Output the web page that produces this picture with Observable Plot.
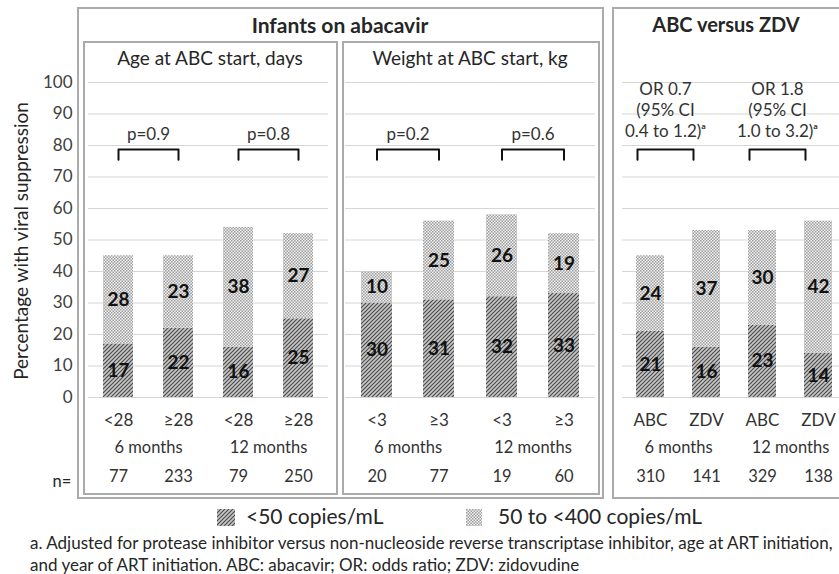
<!DOCTYPE html>
<html><head><meta charset="utf-8">
<script src="https://cdn.jsdelivr.net/npm/d3@7"></script>
<script src="https://cdn.jsdelivr.net/npm/@observablehq/plot@0.6"></script>
<style>
body{margin:0;background:#fff;font-family:Lato,"Open Sans",sans-serif;color:#262626}
#fig{position:relative;width:839px;height:574px;overflow:hidden;background:#fff}
.box{position:absolute;border:2px solid #ababab;box-sizing:border-box}
.t{position:absolute;white-space:nowrap;transform:translate(-50%,-50%)}
.pl{position:absolute;top:0}
.pl svg{max-width:none !important}
.leg{position:absolute;white-space:nowrap;font-size:21px;color:#262626}
.foot{position:absolute;left:30px;font-size:17px;white-space:nowrap;color:#262626}
</style></head>
<body>
<svg width="0" height="0" style="position:absolute">
  <defs>
    <pattern id="hatch" patternUnits="userSpaceOnUse" width="4" height="4">
      <rect width="4" height="4" fill="#c8c8c8"/>
      <path d="M-1,1 l2,-2 M0,4 l4,-4 M3,5 l2,-2" stroke="#4a4a4a" stroke-width="1.2"/>
    </pattern>
    <pattern id="dots" patternUnits="userSpaceOnUse" width="3" height="3">
      <rect width="3" height="3" fill="#efefef"/>
      <rect width="1.5" height="1.5" fill="#a0a0a0"/>
      <rect x="1.5" y="1.5" width="1.5" height="1.5" fill="#a0a0a0"/>
    </pattern>
  </defs>
</svg>
<div id="fig">
  <div class="box" style="left:77px;top:7px;width:527px;height:492px"></div>
  <div class="box" style="left:83px;top:41px;width:255px;height:454px"></div>
  <div class="box" style="left:342px;top:41px;width:258px;height:454px"></div>
  <div class="box" style="left:612px;top:7px;width:260px;height:492px"></div>
  <div class="t" style="left:340px;top:24px;font-weight:bold;font-size:21px">Infants on abacavir</div>
  <div class="t" style="left:726px;top:24px;font-weight:bold;font-size:20px">ABC versus ZDV</div>
  <div class="t" style="left:210px;top:57px;font-size:19px">Age at ABC start, days</div>
  <div class="t" style="left:470px;top:57px;font-size:19px">Weight at ABC start, kg</div>
  <svg style="position:absolute;left:0;top:0" width="40" height="500">
    <text transform="translate(20,241) rotate(-90)" text-anchor="middle" dominant-baseline="central" font-family="Lato, 'Open Sans', sans-serif" font-size="19" fill="#262626">Percentage with viral suppression</text>
  </svg>
  <div class="t" style="left:62px;top:481px;font-size:16.5px">n=</div>
  <div id="p1" class="pl" style="left:0px;width:328px"></div>
  <div id="p2" class="pl" style="left:345px;width:250px"></div>
  <div id="p3" class="pl" style="left:622px;width:224px"></div>
  <svg class="leg" style="left:217px;top:509px" width="18" height="17"><rect width="18" height="17" fill="url(#hatch)"/></svg>
  <div class="leg" style="left:246px;top:503px">&lt;50 copies/mL</div>
  <svg class="leg" style="left:466px;top:509px" width="16" height="17"><rect width="16" height="17" fill="url(#dots)"/></svg>
  <div class="leg" style="left:498px;top:503px">50 to &lt;400 copies/mL</div>
  <div class="foot" style="top:532px">a. Adjusted for protease inhibitor versus non-nucleoside reverse transcriptase inhibitor, age at ART initiation,</div>
  <div class="foot" style="top:554px">and year of ART initiation. ABC: abacavir; OR: odds ratio; ZDV: zidovudine</div>
</div>
<script>
// ---- data ----
const timepoints = ["6 months", "12 months"];
const ageGroups = ["<28", "≥28"];
const weightGroups = ["<3", "≥3"];
const drugGroups = ["ABC", "ZDV"];
const levels = ["<50 copies/mL", "50 to <400 copies/mL"];
// order: 6 months (grp1, grp2), 12 months (grp1, grp2)
const ageBelow50 = [17, 22, 16, 25];
const age50to400 = [28, 23, 38, 27];
const ageN = [77, 233, 79, 250];
const weightBelow50 = [30, 31, 32, 33];
const weight50to400 = [10, 25, 26, 19];
const weightN = [20, 77, 19, 60];
const drugBelow50 = [21, 16, 23, 14];
const drug50to400 = [24, 37, 30, 42];
const drugN = [310, 141, 329, 138];
const agePvalues = ["p=0.9", "p=0.8"];
const weightPvalues = ["p=0.2", "p=0.6"];
const drugOR = ["OR 0.7\n(95% CI\n0.4 to 1.2)ᵃ", "OR 1.8\n(95% CI\n1.0 to 3.2)ᵃ"];
const yTicks = [0, 10, 20, 30, 40, 50, 60, 70, 80, 90, 100];
const bracketTop = 78.7;
const bracketLeg = 75.5;
const annotationY = [84, 91.5]; // p-value label level, OR label level

function buildRows(groups, below, above, ns) {
  const rows = [];
  below.forEach((v, i) => rows.push({time: timepoints[Math.floor(i / 2)], group: groups[i % 2], level: levels[0], value: v, n: ns[i]}));
  above.forEach((v, i) => rows.push({time: timepoints[Math.floor(i / 2)], group: groups[i % 2], level: levels[1], value: v, n: ns[i]}));
  return rows;
}
function bracketRows(groups) {
  const r = [];
  timepoints.forEach(t => {
    r.push({time: t, group: groups[0], y: bracketLeg});
    r.push({time: t, group: groups[0], y: bracketTop});
    r.push({time: t, group: groups[1], y: bracketTop});
    r.push({time: t, group: groups[1], y: bracketLeg});
  });
  return r;
}

function panel({groups, below, above, ns, notes, noteY, noteDx, width, marginLeft, withAxis}) {
  const rows = buildRows(groups, below, above, ns);
  const barRows = rows.filter(d => d.level === levels[0]);
  const noteRows = timepoints.map((t, i) => ({time: t, label: notes[i]}));
  const marks = [
    Plot.gridY(yTicks, {stroke: "#d6d6d6", strokeOpacity: 1, strokeWidth: 1.2}),
    Plot.barY(rows, Plot.stackY({x: "group", fx: "time", y: "value", fill: "level", z: "level"})),
    Plot.text(rows, Plot.stackY({x: "group", fx: "time", y: "value", z: "level", text: "value", fontSize: 19, fontWeight: "bold", fill: "#111"})),
    Plot.line(bracketRows(groups), {x: "group", y: "y", fx: "time", stroke: "#111", strokeWidth: 2, dx: noteDx}),
    Plot.text(noteRows, {fx: "time", y: () => noteY, text: "label", fontSize: 17, lineHeight: 1.25, dx: noteDx, fill: "#333"}),
    Plot.text(barRows, {x: "group", fx: "time", text: "group", frameAnchor: "bottom", dy: 28, fontSize: 17, fill: "#333"}),
    Plot.text(timepoints, {fx: d => d, text: d => d, frameAnchor: "bottom", dy: 55, fontSize: 16.5, fill: "#333"}),
    Plot.text(barRows, {x: "group", fx: "time", text: "n", frameAnchor: "bottom", dy: 84, fontSize: 16.5, fill: "#333"})
  ];
  if (withAxis) marks.unshift(Plot.axisY(yTicks, {tickSize: 0, tickPadding: 16, fontSize: 17, fill: "#404040", label: null}));
  return Plot.plot({
    width, height: 500,
    marginTop: 82, marginBottom: 103, marginLeft, marginRight: 0,
    style: {fontFamily: "Lato, 'Open Sans', sans-serif", fontSize: "16px", background: "transparent", overflow: "visible", color: "#333", maxWidth: "none"},
    fx: {domain: timepoints, padding: 0, axis: null},
    x: {domain: groups, paddingInner: 0.5, paddingOuter: 0.25, axis: null},
    y: {domain: [0, 100], axis: null},
    color: {domain: levels, range: ["url(#hatch)", "url(#dots)"]},
    marks
  });
}

document.getElementById("p1").append(panel({groups: ageGroups, below: ageBelow50, above: age50to400, ns: ageN, notes: agePvalues, noteY: annotationY[0], noteDx: 0, width: 328, marginLeft: 88, withAxis: true}));
document.getElementById("p2").append(panel({groups: weightGroups, below: weightBelow50, above: weight50to400, ns: weightN, notes: weightPvalues, noteY: annotationY[0], noteDx: 0, width: 250, marginLeft: 0, withAxis: false}));
document.getElementById("p3").append(panel({groups: drugGroups, below: drugBelow50, above: drug50to400, ns: drugN, notes: drugOR, noteY: annotationY[1], noteDx: -13, width: 224, marginLeft: 0, withAxis: false}));
</script>
</body></html>
